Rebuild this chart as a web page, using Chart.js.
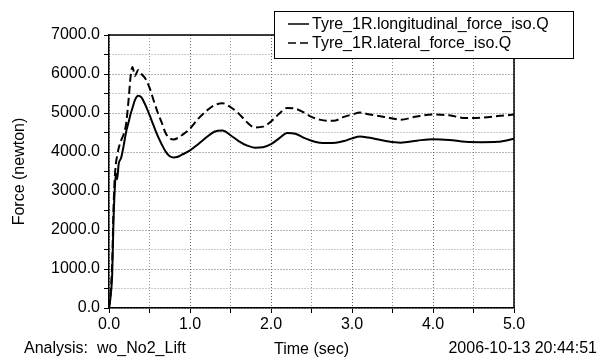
<!DOCTYPE html>
<html>
<head>
<meta charset="utf-8">
<script src="https://cdn.jsdelivr.net/npm/chart.js@4.4.1/dist/chart.umd.min.js"></script>
<style>
  html, body { margin: 0; padding: 0; background: #fff; }
  #chart { display: block; }
</style>
</head>
<body>
<canvas id="chart" width="606" height="360"></canvas>
<script>
// time samples (sec) shared by both series
const timeSec = [0, 0.02, 0.04, 0.055, 0.07, 0.085, 0.1, 0.12, 0.15, 0.18, 0.21, 0.24, 0.27, 0.29, 0.32, 0.36, 0.4, 0.45, 0.5, 0.55,
  0.6, 0.65, 0.7, 0.75, 0.8, 0.85, 0.9, 1.0, 1.1, 1.2, 1.3, 1.4, 1.5, 1.6, 1.7, 1.8, 1.9, 2.0, 2.1, 2.2,
  2.3, 2.4, 2.5, 2.6, 2.7, 2.8, 2.9, 3.0, 3.1, 3.2, 3.4, 3.6, 3.8, 4.0, 4.2, 4.4, 4.6, 4.8, 5.0];

const longitudinalForce = [0, 300, 900, 2200, 3000, 3450, 3300, 3700, 3850, 4150, 4500, 4750, 5000, 5130, 5330, 5440, 5400, 5200, 4950, 4680,
  4420, 4200, 4010, 3890, 3860, 3880, 3930, 4040, 4200, 4370, 4520, 4550, 4430, 4280, 4170, 4110, 4120, 4200, 4350, 4490,
  4470, 4370, 4290, 4240, 4230, 4240, 4280, 4350, 4400, 4370, 4290, 4240, 4290, 4330, 4310, 4260, 4250, 4260, 4340];

const lateralForce = [0, 400, 1200, 2500, 3300, 3700, 3900, 4100, 4300, 4450, 4700, 5300, 6000, 6180, 5950, 6100, 6000, 5880, 5650, 5330,
  5020, 4760, 4480, 4350, 4320, 4360, 4430, 4600, 4850, 5050, 5200, 5250, 5150, 4990, 4770, 4630, 4650, 4780, 4980, 5130,
  5110, 5020, 4900, 4830, 4800, 4810, 4900, 4960, 5010, 4970, 4900, 4830, 4910, 4960, 4940, 4870, 4880, 4920, 4960];

const seriesLabels = ['Tyre_1R.longitudinal_force_iso.Q', 'Tyre_1R.lateral_force_iso.Q'];
const analysisText = 'Analysis:  wo_No2_Lift';
const stampText = '2006-10-13 20:44:51';

const FONT = 'Arial, "Liberation Sans", sans-serif';

const toPoints = (values) => timeSec.map((t, i) => ({ x: t, y: values[i] }));

// frame, legend box and footer texts
const decorPlugin = {
  id: 'decor',
  afterDraw(chart) {
    const ctx = chart.ctx;
    const area = chart.chartArea;
    ctx.save();

    ctx.strokeStyle = '#000';
    ctx.lineWidth = 1.5;
    ctx.beginPath();
    ctx.moveTo(area.left, area.top);
    ctx.lineTo(area.right, area.top);
    ctx.lineTo(area.right, area.bottom);
    ctx.stroke();

    // legend
    const box = { x: 274, y: 11, w: 299, h: 47 };
    ctx.fillStyle = '#fff';
    ctx.fillRect(box.x, box.y, box.w, box.h);
    ctx.lineWidth = 1;
    ctx.strokeStyle = '#000';
    ctx.strokeRect(box.x + 0.5, box.y + 0.5, box.w, box.h);

    ctx.font = '16px ' + FONT;
    ctx.textBaseline = 'middle';
    ctx.textAlign = 'left';
    chart.data.datasets.forEach((ds, i) => {
      const y = box.y + 13 + i * 19;
      ctx.strokeStyle = ds.borderColor;
      ctx.lineWidth = 1.5;
      ctx.setLineDash(ds.borderDash || []);
      ctx.beginPath();
      ctx.moveTo(box.x + 14, y);
      ctx.lineTo(box.x + 35, y);
      ctx.stroke();
      ctx.setLineDash([]);
      ctx.fillStyle = '#000';
      ctx.fillText(ds.label, box.x + 38, y + 1);
    });

    // footer
    ctx.font = '16px ' + FONT;
    ctx.fillStyle = '#000';
    ctx.textBaseline = 'middle';
    ctx.textAlign = 'left';
    ctx.fillText(analysisText, 24, 349);
    ctx.textAlign = 'right';
    ctx.fillText(stampText, 597, 349);

    ctx.restore();
  }
};

const gridColor = (major) => (ctx) => {
  const v = ctx.tick ? ctx.tick.value : 0;
  return (Math.abs(v % major) < 1e-6) ? '#666' : '#999';
};

const ctx = document.getElementById('chart').getContext('2d');
const chart = new Chart(ctx, {
  type: 'line',
  data: {
    datasets: [{
      label: seriesLabels[0],
      data: toPoints(longitudinalForce),
      borderColor: '#000',
      borderWidth: 2,
      pointRadius: 0,
      cubicInterpolationMode: 'monotone'
    }, {
      label: seriesLabels[1],
      data: toPoints(lateralForce),
      borderColor: '#000',
      borderWidth: 2,
      borderDash: [8, 4],
      pointRadius: 0,
      cubicInterpolationMode: 'monotone'
    }]
  },
  options: {
    responsive: false,
    animation: false,
    devicePixelRatio: 1,
    layout: { padding: { top: 35, right: 92, left: 0, bottom: 0 } },
    plugins: {
      legend: { display: false },
      tooltip: { enabled: false }
    },
    scales: {
      x: {
        type: 'linear',
        min: 0,
        max: 5,
        afterFit: (scale) => { scale.height = 52; },
        ticks: {
          stepSize: 0.5,
          autoSkip: false,
          maxRotation: 0,
          padding: 2,
          color: '#000',
          font: { size: 16, family: FONT },
          callback: (v) => Number.isInteger(v) ? v.toFixed(1) : ''
        },
        grid: {
          color: gridColor(1),
          lineWidth: 1,
          tickLength: 5,
          tickColor: '#000',
          tickBorderDash: []
        },
        border: { color: '#000', width: 1.5, dash: [1, 2] },
        title: {
          display: true,
          text: 'Time (sec)',
          color: '#000',
          font: { size: 16, family: FONT },
          padding: { top: 0, bottom: 1 }
        }
      },
      y: {
        min: 0,
        max: 7000,
        afterFit: (scale) => { scale.width = 109; },
        ticks: {
          stepSize: 500,
          autoSkip: false,
          padding: 4,
          color: '#000',
          font: { size: 16, family: FONT },
          callback: (v) => (v % 1000 === 0) ? v.toFixed(1) : ''
        },
        grid: {
          color: gridColor(1000),
          lineWidth: 1,
          tickLength: 5,
          tickColor: '#000',
          tickBorderDash: []
        },
        border: { color: '#000', width: 1.5, dash: [1, 2] },
        title: {
          display: true,
          text: 'Force (newton)',
          color: '#000',
          font: { size: 16, family: FONT },
          padding: { top: 10, bottom: 0 }
        }
      }
    }
  },
  plugins: [decorPlugin]
});
</script>
</body>
</html>
